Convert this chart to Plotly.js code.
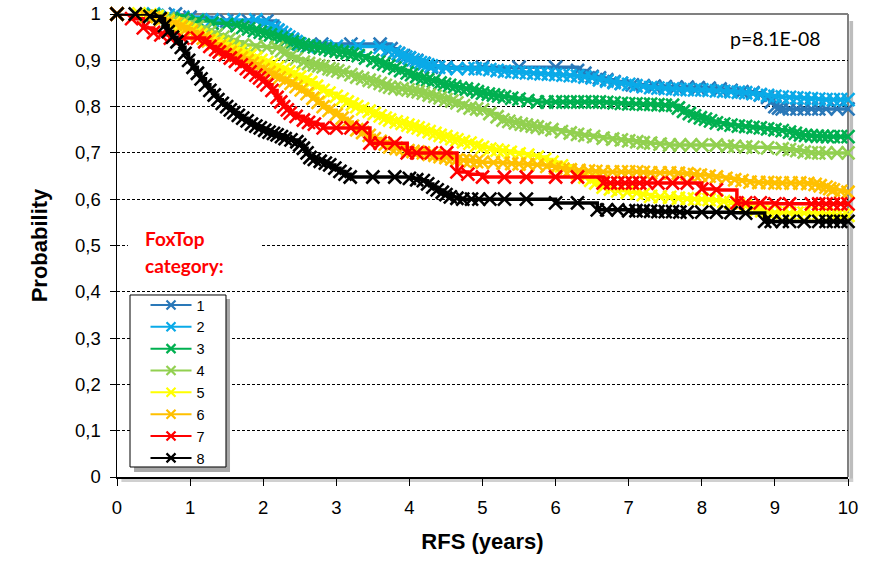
<!DOCTYPE html>
<html><head><meta charset="utf-8">
<script src="https://cdn.plot.ly/plotly-3.0.1.min.js"></script>
<style>html,body{margin:0;padding:0;background:#fff}#chart{width:872px;height:563px}</style>
</head><body><div id="chart"></div>
<script>
// ---- data: [years, survival probability] ----
const categories = ['1', '2', '3', '4', '5', '6', '7', '8'];
const colors = ['#2A78B8', '#0AAAE8', '#00B050', '#92D050', '#FFFF00', '#FFC000', '#FF0000', '#000000'];

const cat1 = [[0,1],[0.8,1],[1.0,0.993],[1.3,0.985],[1.5,0.985],[1.8,0.985],[2.05,0.985],[2.2,0.965],[2.3,0.955],[2.4,0.945],[2.5,0.935],[2.8,0.935],[3.2,0.935],[3.6,0.935],[3.75,0.925],[3.85,0.915],[3.92,0.91],[4.0,0.905],[4.1,0.9],[4.2,0.893],[4.3,0.885],[4.5,0.885],[5.0,0.885],[5.5,0.885],[6.0,0.885],[6.3,0.878],[6.4,0.872],[6.5,0.865],[6.6,0.862],[6.7,0.858],[6.8,0.854],[6.9,0.85],[7.05,0.847],[7.2,0.845],[7.35,0.844],[7.5,0.843],[7.65,0.842],[7.8,0.842],[7.95,0.841],[8.1,0.84],[8.25,0.838],[8.4,0.835],[8.55,0.832],[8.7,0.83],[8.8,0.825],[8.9,0.82],[8.95,0.81],[9.0,0.8],[9.05,0.797],[9.1,0.795],[9.2,0.795],[9.3,0.795],[9.4,0.795],[9.5,0.795],[9.6,0.795],[9.7,0.795],[9.85,0.795],[10,0.795]];

const cat2 = [[0,1],[0.5,1],[0.7,0.997],[0.9,0.993],[1.1,0.987],[1.3,0.987],[1.6,0.987],[1.9,0.987],[2.0,0.98],[2.1,0.975],[2.15,0.97],[2.2,0.965],[2.25,0.96],[2.3,0.955],[2.35,0.95],[2.4,0.945],[2.45,0.94],[2.5,0.935],[2.6,0.93],[2.8,0.93],[3.0,0.93],[3.3,0.93],[3.6,0.928],[3.7,0.922],[3.8,0.918],[3.85,0.914],[3.9,0.91],[3.95,0.907],[4.0,0.905],[4.05,0.901],[4.1,0.898],[4.15,0.895],[4.2,0.893],[4.25,0.89],[4.3,0.888],[4.4,0.885],[4.5,0.883],[4.65,0.882],[4.8,0.882],[4.9,0.882],[5.0,0.882],[5.1,0.88],[5.2,0.878],[5.3,0.876],[5.4,0.875],[5.5,0.874],[5.6,0.873],[5.7,0.872],[5.8,0.871],[5.9,0.87],[6.0,0.869],[6.1,0.868],[6.2,0.867],[6.3,0.866],[6.4,0.864],[6.5,0.862],[6.6,0.858],[6.7,0.855],[6.8,0.852],[6.9,0.85],[7.0,0.848],[7.1,0.845],[7.2,0.843],[7.3,0.841],[7.4,0.84],[7.5,0.839],[7.6,0.838],[7.7,0.837],[7.8,0.837],[7.9,0.836],[8.0,0.836],[8.1,0.835],[8.2,0.834],[8.3,0.833],[8.4,0.832],[8.5,0.831],[8.6,0.83],[8.7,0.828],[8.8,0.826],[8.9,0.824],[9.0,0.822],[9.1,0.821],[9.2,0.82],[9.3,0.819],[9.4,0.818],[9.5,0.817],[9.6,0.816],[9.7,0.815],[9.8,0.815],[9.9,0.815],[10,0.815]];

const cat3 = [[0,1],[0.5,0.997],[0.9,0.99],[1.1,0.985],[1.3,0.98],[1.5,0.977],[1.64,0.975],[1.72,0.971],[1.8,0.968],[1.88,0.964],[1.96,0.961],[2.03,0.958],[2.1,0.955],[2.18,0.951],[2.25,0.948],[2.32,0.944],[2.4,0.94],[2.48,0.936],[2.55,0.933],[2.62,0.931],[2.7,0.929],[2.78,0.927],[2.85,0.925],[2.92,0.922],[3.0,0.92],[3.08,0.918],[3.15,0.916],[3.22,0.913],[3.3,0.91],[3.4,0.905],[3.5,0.9],[3.58,0.896],[3.65,0.892],[3.72,0.888],[3.8,0.883],[3.88,0.878],[3.97,0.873],[4.03,0.869],[4.1,0.865],[4.18,0.861],[4.25,0.858],[4.33,0.855],[4.42,0.851],[4.48,0.848],[4.55,0.846],[4.62,0.843],[4.7,0.84],[4.78,0.838],[4.87,0.836],[4.93,0.832],[5.0,0.829],[5.08,0.827],[5.15,0.825],[5.22,0.823],[5.3,0.821],[5.4,0.818],[5.5,0.816],[5.62,0.813],[5.75,0.81],[5.88,0.81],[6.0,0.81],[6.1,0.81],[6.2,0.81],[6.3,0.81],[6.4,0.81],[6.5,0.81],[6.6,0.81],[6.7,0.809],[6.8,0.808],[6.9,0.807],[7.0,0.806],[7.1,0.806],[7.2,0.805],[7.3,0.805],[7.4,0.804],[7.5,0.803],[7.6,0.803],[7.68,0.797],[7.75,0.79],[7.83,0.785],[7.9,0.78],[7.98,0.776],[8.05,0.773],[8.12,0.769],[8.2,0.765],[8.3,0.762],[8.4,0.76],[8.5,0.758],[8.6,0.757],[8.7,0.755],[8.8,0.754],[8.9,0.752],[9.0,0.75],[9.1,0.748],[9.2,0.745],[9.28,0.742],[9.35,0.739],[9.42,0.738],[9.5,0.737],[9.58,0.736],[9.65,0.736],[9.72,0.735],[9.8,0.735],[9.9,0.735],[10,0.735]];

const cat4 = [[0,1],[0.4,0.995],[0.7,0.99],[0.9,0.982],[1.0,0.977],[1.1,0.972],[1.2,0.966],[1.27,0.961],[1.36,0.955],[1.45,0.95],[1.53,0.945],[1.6,0.94],[1.72,0.933],[1.9,0.93],[2.05,0.928],[2.19,0.927],[2.25,0.921],[2.3,0.915],[2.38,0.909],[2.45,0.903],[2.55,0.896],[2.62,0.893],[2.7,0.89],[2.76,0.888],[2.82,0.886],[2.9,0.882],[2.95,0.88],[3.02,0.877],[3.1,0.874],[3.2,0.869],[3.28,0.864],[3.36,0.861],[3.45,0.857],[3.52,0.854],[3.6,0.85],[3.67,0.846],[3.73,0.842],[3.8,0.84],[3.9,0.838],[3.98,0.836],[4.05,0.834],[4.12,0.832],[4.19,0.829],[4.27,0.825],[4.35,0.822],[4.42,0.819],[4.5,0.815],[4.58,0.812],[4.65,0.808],[4.74,0.802],[4.83,0.797],[4.92,0.795],[5.0,0.793],[5.1,0.785],[5.2,0.778],[5.28,0.771],[5.36,0.768],[5.45,0.765],[5.53,0.762],[5.6,0.76],[5.68,0.758],[5.75,0.756],[5.85,0.753],[5.95,0.75],[6.08,0.746],[6.2,0.743],[6.3,0.74],[6.4,0.738],[6.52,0.735],[6.65,0.732],[6.78,0.73],[6.9,0.728],[7.0,0.726],[7.11,0.724],[7.2,0.722],[7.3,0.721],[7.43,0.719],[7.56,0.717],[7.7,0.717],[7.85,0.717],[8.0,0.717],[8.2,0.717],[8.35,0.715],[8.45,0.714],[8.6,0.713],[8.7,0.712],[8.9,0.711],[9.1,0.709],[9.2,0.707],[9.3,0.705],[9.4,0.702],[9.5,0.7],[9.6,0.7],[9.7,0.7],[9.85,0.7],[10,0.7]];

const cat5 = [[0,1],[0.3,1],[0.45,0.998],[0.55,0.995],[0.62,0.99],[0.7,0.985],[0.78,0.98],[0.85,0.975],[0.92,0.97],[1.0,0.965],[1.08,0.96],[1.15,0.955],[1.22,0.95],[1.3,0.945],[1.38,0.94],[1.45,0.935],[1.52,0.93],[1.6,0.925],[1.68,0.92],[1.75,0.915],[1.82,0.91],[1.9,0.905],[1.97,0.9],[2.05,0.895],[2.12,0.89],[2.2,0.885],[2.28,0.88],[2.35,0.875],[2.42,0.87],[2.5,0.864],[2.58,0.858],[2.65,0.852],[2.73,0.844],[2.82,0.835],[2.9,0.829],[3.0,0.822],[3.08,0.816],[3.15,0.81],[3.22,0.805],[3.28,0.8],[3.36,0.795],[3.45,0.79],[3.52,0.785],[3.6,0.78],[3.67,0.775],[3.73,0.771],[3.82,0.767],[3.9,0.764],[3.98,0.76],[4.05,0.757],[4.12,0.754],[4.19,0.75],[4.27,0.746],[4.35,0.742],[4.42,0.738],[4.5,0.735],[4.58,0.731],[4.65,0.728],[4.74,0.724],[4.83,0.721],[4.92,0.716],[5.0,0.712],[5.1,0.708],[5.2,0.706],[5.28,0.704],[5.38,0.701],[5.5,0.698],[5.62,0.695],[5.75,0.691],[5.85,0.686],[5.95,0.68],[6.08,0.672],[6.2,0.663],[6.3,0.656],[6.4,0.648],[6.48,0.641],[6.55,0.635],[6.65,0.626],[6.75,0.622],[6.85,0.618],[6.98,0.615],[7.11,0.613],[7.2,0.61],[7.3,0.606],[7.43,0.605],[7.56,0.604],[7.68,0.602],[7.8,0.601],[7.9,0.6],[8.0,0.6],[8.1,0.599],[8.2,0.598],[8.3,0.595],[8.4,0.592],[8.5,0.589],[8.6,0.585],[8.68,0.582],[8.75,0.578],[8.82,0.575],[8.9,0.572],[9.0,0.571],[9.1,0.571],[9.2,0.57],[9.3,0.57],[9.4,0.57],[9.5,0.57],[9.6,0.569],[9.7,0.568],[9.78,0.567],[9.85,0.566],[9.93,0.565],[10,0.565]];

const cat6 = [[0,1],[0.4,0.995],[0.5,0.992],[0.6,0.988],[0.7,0.983],[0.8,0.978],[0.88,0.973],[0.95,0.968],[1.02,0.962],[1.1,0.955],[1.18,0.948],[1.25,0.942],[1.32,0.936],[1.4,0.93],[1.48,0.923],[1.55,0.917],[1.62,0.911],[1.7,0.905],[1.78,0.899],[1.85,0.893],[1.92,0.887],[2.0,0.88],[2.08,0.874],[2.15,0.868],[2.22,0.862],[2.3,0.856],[2.38,0.85],[2.45,0.843],[2.52,0.836],[2.6,0.828],[2.68,0.818],[2.75,0.809],[2.82,0.8],[2.9,0.792],[3.0,0.783],[3.08,0.775],[3.15,0.767],[3.22,0.758],[3.28,0.75],[3.36,0.744],[3.45,0.738],[3.52,0.731],[3.6,0.725],[3.67,0.719],[3.73,0.713],[3.82,0.71],[3.9,0.708],[3.98,0.705],[4.05,0.703],[4.12,0.702],[4.19,0.7],[4.27,0.697],[4.35,0.695],[4.42,0.692],[4.5,0.69],[4.58,0.687],[4.65,0.685],[4.74,0.684],[4.83,0.683],[4.92,0.681],[5.0,0.68],[5.15,0.679],[5.28,0.678],[5.4,0.677],[5.5,0.676],[5.62,0.675],[5.75,0.674],[5.88,0.671],[6.0,0.668],[6.1,0.665],[6.2,0.663],[6.32,0.662],[6.45,0.661],[6.55,0.66],[6.65,0.659],[6.78,0.659],[6.9,0.659],[7.0,0.659],[7.11,0.659],[7.2,0.658],[7.3,0.657],[7.43,0.657],[7.56,0.657],[7.68,0.656],[7.8,0.655],[7.9,0.653],[7.98,0.652],[8.1,0.65],[8.2,0.648],[8.33,0.645],[8.45,0.642],[8.55,0.64],[8.66,0.637],[8.78,0.636],[8.9,0.636],[9.0,0.635],[9.1,0.635],[9.22,0.635],[9.34,0.635],[9.45,0.634],[9.55,0.632],[9.62,0.629],[9.7,0.626],[9.75,0.623],[9.8,0.62],[9.9,0.617],[10,0.615]];

const cat7 = [[0,1],[0.2,0.99],[0.36,0.97],[0.5,0.96],[0.6,0.955],[0.73,0.948],[0.9,0.948],[1.1,0.948],[1.2,0.94],[1.27,0.93],[1.35,0.923],[1.4,0.918],[1.48,0.912],[1.55,0.905],[1.62,0.898],[1.7,0.89],[1.77,0.882],[1.82,0.875],[1.9,0.868],[1.95,0.862],[2.0,0.855],[2.05,0.847],[2.12,0.835],[2.19,0.82],[2.24,0.81],[2.28,0.8],[2.33,0.793],[2.37,0.786],[2.45,0.779],[2.55,0.771],[2.62,0.766],[2.7,0.762],[2.82,0.754],[3.0,0.754],[3.2,0.754],[3.35,0.754],[3.46,0.721],[3.6,0.721],[3.8,0.721],[3.97,0.7],[4.1,0.7],[4.3,0.7],[4.51,0.7],[4.65,0.659],[4.8,0.654],[5.0,0.648],[5.3,0.648],[5.6,0.648],[6.0,0.648],[6.3,0.648],[6.65,0.635],[6.75,0.635],[6.85,0.635],[6.95,0.635],[7.05,0.635],[7.15,0.635],[7.25,0.635],[7.4,0.635],[7.6,0.635],[7.8,0.635],[8.0,0.622],[8.2,0.62],[8.48,0.592],[8.6,0.592],[8.8,0.592],[9.0,0.59],[9.2,0.59],[9.5,0.59],[9.6,0.59],[9.7,0.59],[9.8,0.59],[9.9,0.59],[10,0.59]];

const cat8 = [[0,1],[0.25,1],[0.45,0.995],[0.59,0.99],[0.65,0.975],[0.7,0.962],[0.76,0.95],[0.82,0.94],[0.88,0.928],[0.93,0.915],[0.98,0.9],[1.04,0.885],[1.1,0.872],[1.15,0.86],[1.21,0.847],[1.27,0.835],[1.33,0.825],[1.38,0.815],[1.44,0.807],[1.5,0.8],[1.55,0.793],[1.6,0.787],[1.66,0.781],[1.72,0.775],[1.78,0.769],[1.84,0.762],[1.9,0.758],[1.96,0.754],[2.02,0.749],[2.08,0.745],[2.14,0.742],[2.19,0.739],[2.25,0.735],[2.3,0.731],[2.38,0.728],[2.46,0.724],[2.5,0.717],[2.55,0.71],[2.6,0.7],[2.64,0.69],[2.7,0.686],[2.78,0.682],[2.85,0.678],[2.91,0.674],[2.98,0.667],[3.05,0.66],[3.12,0.654],[3.19,0.648],[3.5,0.648],[3.8,0.648],[4.0,0.645],[4.1,0.642],[4.19,0.64],[4.25,0.633],[4.32,0.626],[4.38,0.62],[4.45,0.615],[4.5,0.61],[4.56,0.605],[4.65,0.602],[4.73,0.6],[4.85,0.6],[4.95,0.6],[5.1,0.6],[5.3,0.6],[5.6,0.6],[6.0,0.592],[6.3,0.592],[6.57,0.577],[6.7,0.577],[6.85,0.577],[7.0,0.575],[7.1,0.575],[7.2,0.575],[7.3,0.574],[7.4,0.573],[7.5,0.573],[7.6,0.573],[7.7,0.572],[7.8,0.572],[8.0,0.572],[8.2,0.572],[8.4,0.571],[8.6,0.57],[8.86,0.552],[8.95,0.552],[9.1,0.552],[9.2,0.552],[9.4,0.552],[9.6,0.552],[9.7,0.552],[9.8,0.552],[9.9,0.552],[10,0.552]];

const curves = [cat1, cat2, cat3, cat4, cat5, cat6, cat7, cat8];

const yTickVals = [0, 0.1, 0.2, 0.3, 0.4, 0.5, 0.6, 0.7, 0.8, 0.9, 1];
const yTickText = ['0', '0,1', '0,2', '0,3', '0,4', '0,5', '0,6', '0,7', '0,8', '0,9', '1'];
const xTickVals = [0, 1, 2, 3, 4, 5, 6, 7, 8, 9, 10];

// ---- traces ----
const curveTraces = categories.map((name, i) => ({
  type: 'scatter',
  mode: 'lines+markers',
  name: name,
  showlegend: false,
  x: curves[i].map(p => p[0]),
  y: curves[i].map(p => p[1]),
  line: {shape: 'hv', color: colors[i], width: 3.5},
  marker: {symbol: 'x-thin', size: 13, color: colors[i], line: {color: colors[i], width: 2.6}},
  cliponaxis: false
}));
// thin-line entries for the legend only
const legendTraces = categories.map((name, i) => ({
  type: 'scatter',
  mode: 'lines+markers',
  name: name,
  x: [null], y: [null],
  line: {color: colors[i], width: 2},
  marker: {symbol: 'x-thin', size: 9, color: colors[i], line: {color: colors[i], width: 2.2}}
}));

const sans = 'Arial, "Liberation Sans", sans-serif';
const calib = 'Lato, "Open Sans", "Liberation Sans", sans-serif';

const layout = {
  width: 872, height: 563,
  margin: {l: 117, r: 24, t: 14, b: 86},
  paper_bgcolor: '#ffffff',
  plot_bgcolor: '#ffffff',
  showlegend: true,
  legend: {
    x: 0.039, y: 0.406, xanchor: 'left', yanchor: 'top',
    bgcolor: 'rgba(0,0,0,0)', borderwidth: 0,
    font: {family: sans, size: 14.5, color: '#000'},
    itemwidth: 41,
    tracegroupgap: 0
  },
  xaxis: {
    range: [0, 10], tickvals: xTickVals, showgrid: false, zeroline: false,
    showline: true, linecolor: '#000', linewidth: 1.5,
    ticks: 'outside', ticklen: 7, tickcolor: '#000',
    ticklabelstandoff: 6,
    tickfont: {family: sans, size: 18.5, color: '#000'},
    title: {text: '<b>RFS (years)</b>', font: {family: sans, size: 22, color: '#000'}, standoff: 17}
  },
  yaxis: {
    range: [0, 1], tickvals: yTickVals, ticktext: yTickText,
    showgrid: true, gridcolor: '#000', gridwidth: 1, griddash: '3px,2px',
    zeroline: false, showline: true, linecolor: '#000', linewidth: 1.5,
    ticks: 'outside', ticklen: 6, tickcolor: '#000',
    ticklabelstandoff: 5,
    tickfont: {family: sans, size: 18.5, color: '#000'},
    title: {text: '<b>Probability</b>', font: {family: sans, size: 22, color: '#000'}, standoff: 21}
  },
  shapes: [
    // shadow of the plot frame
    {type: 'rect', xref: 'paper', yref: 'paper', x0: 1.002, x1: 1.007, y0: -0.011, y1: 0.985, fillcolor: '#bdbdbd', line: {width: 0}, layer: 'below'},
    {type: 'rect', xref: 'paper', yref: 'paper', x0: 0.006, x1: 1.007, y0: -0.011, y1: -0.003, fillcolor: '#d0d0d0', line: {width: 0}, layer: 'below'},
    // gray top and right frame
    {type: 'line', xref: 'paper', yref: 'paper', x0: 0, x1: 1, y0: 1, y1: 1, line: {color: '#808080', width: 2}, layer: 'below'},
    {type: 'line', xref: 'paper', yref: 'paper', x0: 1, x1: 1, y0: 0, y1: 1, line: {color: '#808080', width: 2}, layer: 'below'},
    // white box behind the legend title
    {type: 'rect', xref: 'paper', yref: 'paper', x0: 0.015, x1: 0.198, y0: 0.425, y1: 0.546, fillcolor: '#ffffff', line: {width: 0}, layer: 'above'},
    // legend shadow and legend box
    {type: 'rect', xref: 'paper', yref: 'paper', x0: 0.0233, x1: 0.1546, y0: 0.011, y1: 0.3844, fillcolor: '#a8a8a8', line: {width: 0}, layer: 'above'},
    {type: 'rect', xref: 'paper', yref: 'paper', x0: 0.0178, x1: 0.1491, y0: 0.0216, y1: 0.3931, fillcolor: '#ffffff', line: {color: '#000', width: 1}, layer: 'above'}
  ],
  annotations: [
    {xref: 'paper', yref: 'paper', x: 0.9015, y: 0.948, xanchor: 'center', yanchor: 'middle', showarrow: false,
     text: 'p=8.1E-08', font: {family: calib, size: 19.5, color: '#000'}},
    {xref: 'paper', yref: 'paper', x: 0.0356, y: 0.516, xanchor: 'left', yanchor: 'middle', showarrow: false,
     text: '<b>FoxTop</b>', font: {family: calib, size: 19, color: '#FF0000'}},
    {xref: 'paper', yref: 'paper', x: 0.0356, y: 0.456, xanchor: 'left', yanchor: 'middle', showarrow: false,
     text: '<b>category:</b>', font: {family: calib, size: 19, color: '#FF0000'}}
  ]
};

Plotly.newPlot('chart', curveTraces.concat(legendTraces), layout, {displayModeBar: false, staticPlot: true});
</script>
</body></html>
